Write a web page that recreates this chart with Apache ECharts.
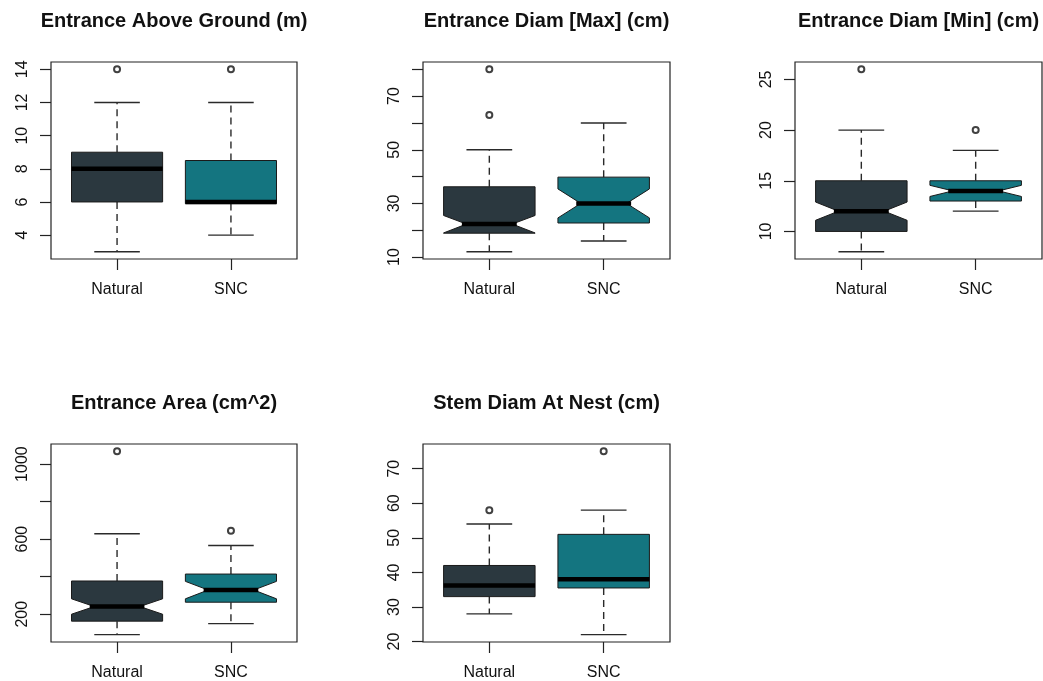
<!DOCTYPE html>
<html>
<head>
<meta charset="utf-8">
<script src="https://cdn.jsdelivr.net/npm/echarts@6/dist/echarts.min.js"></script>
<style>
  html, body { margin: 0; padding: 0; background: #fff; }
  #chart { width: 1043px; height: 681px; }
</style>
</head>
<body>
<div id="chart"></div>
<script>
// groups on the x axis
const groups = ['Natural', 'SNC'];
const fills = ['#2b383f', '#147580'];

// panel titles
const titles = [
  'Entrance Above Ground (m)',
  'Entrance Diam [Max] (cm)',
  'Entrance Diam [Min] (cm)',
  'Entrance Area (cm^2)',
  'Stem Diam At Nest (cm)'
];

// five-number summaries per group: [lower whisker, Q1, median, Q3, upper whisker]
const aboveGround = [[3, 6, 8, 9, 12], [4, 5.9, 6, 8.5, 12]];
const aboveGroundOut = [[14], [14]];
const aboveGroundTicks = [4, 6, 8, 10, 12, 14];
const aboveGroundLabels = [4, 6, 8, 10, 12, 14];

const diamMax = [[12, 18.9, 22.3, 36.2, 50], [16, 22.7, 30, 39.8, 60]];
const diamMaxNotch = [[19, 25.5], [24.6, 35.4]];
const diamMaxOut = [[63, 80], []];
const diamMaxTicks = [10, 20, 30, 40, 50, 60, 70, 80];
const diamMaxLabels = [10, 30, 50, 70];

const diamMin = [[8, 10, 12, 15, 20], [12, 13, 14, 15, 18]];
const diamMinNotch = [[11.1, 12.9], [13.45, 14.55]];
const diamMinOut = [[26], [20]];
const diamMinTicks = [10, 15, 20, 25];
const diamMinLabels = [10, 15, 20, 25];

const area = [[91, 163, 241, 377, 629], [150, 264, 329, 414, 566]];
const areaNotch = [[200, 282], [282, 375]];
const areaOut = [[1068], [645]];
const areaTicks = [200, 400, 600, 800, 1000];
const areaLabels = [200, 600, 1000];

const stem = [[28, 33, 36.2, 42, 54], [22, 35.5, 38, 51, 58]];
const stemOut = [[58], [75]];
const stemTicks = [20, 30, 40, 50, 60, 70];
const stemLabels = [20, 30, 40, 50, 60, 70];

// ===== layout (px) =====
const grids = [
  { left: 51,  top: 62,  width: 246, height: 197 },
  { left: 423, top: 62,  width: 247, height: 197 },
  { left: 795, top: 62,  width: 247, height: 197 },
  { left: 51,  top: 444, width: 246, height: 198 },
  { left: 423, top: 444, width: 247, height: 198 }
];

const panels = [
  { stats: aboveGround, notch: null, out: aboveGroundOut, ticks: aboveGroundTicks, labels: aboveGroundLabels },
  { stats: diamMax, notch: diamMaxNotch, out: diamMaxOut, ticks: diamMaxTicks, labels: diamMaxLabels },
  { stats: diamMin, notch: diamMinNotch, out: diamMinOut, ticks: diamMinTicks, labels: diamMinLabels },
  { stats: area, notch: areaNotch, out: areaOut, ticks: areaTicks, labels: areaLabels },
  { stats: stem, notch: null, out: stemOut, ticks: stemTicks, labels: stemLabels }
];

const FONT = '"Liberation Sans", Arial, Helvetica, sans-serif';
const INK = '#111';

// R-like extended range: data range + 4% each side
function extent(p) {
  let lo = Infinity, hi = -Infinity;
  p.stats.forEach((s, i) => {
    lo = Math.min(lo, s[0], ...p.out[i]);
    hi = Math.max(hi, s[4], ...p.out[i]);
  });
  const pad = (hi - lo) * 0.04;
  return [lo - pad, hi + pad];
}

// notched / plain box drawn through the axes
function renderBox(params, api) {
  const x = api.value(0);
  const lo = api.value(1), q1 = api.value(2), med = api.value(3), q3 = api.value(4), hi = api.value(5);
  const notched = api.value(6) === 1;
  const nLo = api.value(7), nHi = api.value(8);
  const fill = fills[api.value(9)];
  const pt = (dx, v) => api.coord([x + dx, v]);
  const w = 0.4, wn = 0.2, ws = 0.2;

  let poly;
  if (notched) {
    poly = [pt(-w, q1), pt(w, q1), pt(w, nLo), pt(wn, med), pt(w, nHi), pt(w, q3),
            pt(-w, q3), pt(-w, nHi), pt(-wn, med), pt(-w, nLo)];
  } else {
    poly = [pt(-w, q1), pt(w, q1), pt(w, q3), pt(-w, q3)];
  }
  const whisk = { stroke: '#2a2a2a', lineWidth: 1.4, lineDash: [7, 5] };
  const solid = { stroke: '#2a2a2a', lineWidth: 1.4 };
  const a = pt(0, q3), b = pt(0, hi), c = pt(0, q1), d = pt(0, lo);
  const mw = notched ? 0.24 : w;
  const m1 = pt(-mw, med), m2 = pt(mw, med);
  const s1 = pt(-ws, hi), s2 = pt(ws, hi), s3 = pt(-ws, lo), s4 = pt(ws, lo);

  return {
    type: 'group',
    children: [
      { type: 'line', shape: { x1: a[0], y1: a[1], x2: b[0], y2: b[1] }, style: whisk },
      { type: 'line', shape: { x1: c[0], y1: c[1], x2: d[0], y2: d[1] }, style: whisk },
      { type: 'line', shape: { x1: s1[0], y1: s1[1], x2: s2[0], y2: s2[1] }, style: solid },
      { type: 'line', shape: { x1: s3[0], y1: s3[1], x2: s4[0], y2: s4[1] }, style: solid },
      { type: 'polygon', shape: { points: poly }, style: { fill: fill, stroke: '#1a1a1a', lineWidth: 1 } },
      { type: 'line', shape: { x1: m1[0], y1: m1[1], x2: m2[0], y2: m2[1] },
        style: { stroke: '#000', lineWidth: 4.5, lineCap: 'butt' } }
    ]
  };
}

const option = {
  animation: false,
  backgroundColor: '#fff',
  title: titles.map((t, i) => ({
    text: t,
    left: grids[i].left + grids[i].width / 2,
    top: grids[i].top - 51,
    textAlign: 'center',
    padding: 0,
    textStyle: { fontFamily: FONT, fontSize: 20, fontWeight: 'bold', color: INK }
  })),
  grid: grids.map(g => ({ ...g, show: true, borderColor: '#222', borderWidth: 1.2, backgroundColor: 'transparent' })),
  xAxis: panels.map((p, i) => ({
    type: 'value',
    gridIndex: i,
    min: 0.42,
    max: 2.58,
    axisLine: { show: false },
    splitLine: { show: false },
    axisTick: { show: true, customValues: [1, 2], length: 11, lineStyle: { color: '#222', width: 1.2 } },
    axisLabel: {
      customValues: [1, 2],
      formatter: v => groups[Math.round(v) - 1],
      margin: 23,
      fontFamily: FONT, fontSize: 16, color: INK
    }
  })),
  yAxis: panels.map((p, i) => {
    const [mn, mx] = extent(p);
    return {
      type: 'value',
      gridIndex: i,
      min: mn,
      max: mx,
      axisLine: { show: false },
      splitLine: { show: false },
      axisTick: { show: true, customValues: p.ticks, length: 11, lineStyle: { color: '#222', width: 1.2 } },
      axisLabel: {
        customValues: p.labels,
        formatter: v => String(v),
        rotate: 90,
        margin: 20,
        fontFamily: FONT, fontSize: 16, color: INK
      }
    };
  }),
  series: []
};

panels.forEach((p, i) => {
  option.series.push({
    type: 'custom',
    xAxisIndex: i,
    yAxisIndex: i,
    renderItem: renderBox,
    encode: { x: 0, y: [1, 5] },
    data: p.stats.map((s, g) => [g + 1, ...s,
      p.notch ? 1 : 0,
      p.notch ? p.notch[g][0] : s[1],
      p.notch ? p.notch[g][1] : s[3],
      g])
  });
  const pts = [];
  p.out.forEach((vals, g) => vals.forEach(v => pts.push([g + 1, v])));
  option.series.push({
    type: 'scatter',
    xAxisIndex: i,
    yAxisIndex: i,
    symbol: 'emptyCircle',
    symbolSize: 6,
    itemStyle: { color: '#111', borderColor: '#111', borderWidth: 1 },
    data: pts,
    z: 5
  });
});

const chart = echarts.init(document.getElementById('chart'), null, { renderer: 'canvas' });
chart.setOption(option);
</script>
</body>
</html>
